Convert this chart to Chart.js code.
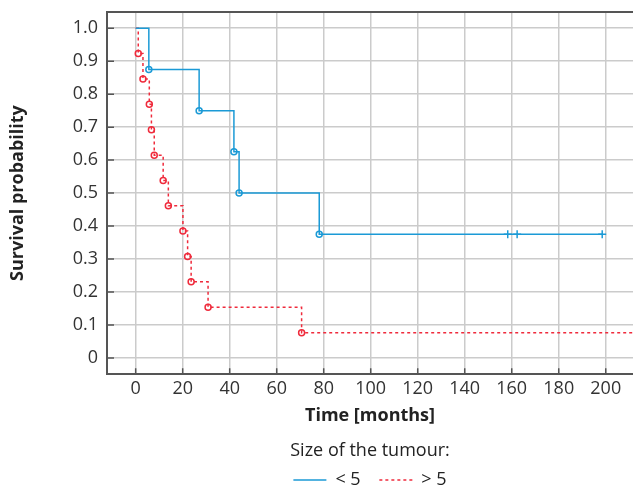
<!DOCTYPE html>
<html>
<head>
<meta charset="utf-8">
<script src="https://cdn.jsdelivr.net/npm/chart.js@4"></script>
<style>
  html, body { margin: 0; padding: 0; background: #fff; }
  #wrap { width: 633px; height: 486px; position: relative; }
</style>
</head>
<body>
<div id="wrap"><canvas id="km"></canvas></div>
<script>
// Kaplan-Meier curves
const smallTime = [0, 5.6, 27, 41.8, 44, 78.1, 158.3, 162.3, 198.5];
const smallSurv = [1, 0.875, 0.75, 0.625, 0.5, 0.375, 0.375, 0.375, 0.375];
const smallKind = ['start', 'event', 'event', 'event', 'event', 'event', 'censor', 'censor', 'censor'];

const largeTime = [0, 1.1, 3.1, 5.8, 6.7, 7.9, 11.7, 13.9, 20.1, 22.1, 23.6, 30.8, 70.6, 212];
const largeSurv = [1, 0.923, 0.846, 0.769, 0.692, 0.615, 0.538, 0.462, 0.385, 0.308, 0.231, 0.154, 0.077, 0.077];
const largeKind = ['start', 'event', 'event', 'event', 'event', 'event', 'event', 'event', 'event', 'event', 'event', 'event', 'event', 'end'];

const groupLabels = ['< 5', '> 5'];
const xTicks = [0, 20, 40, 60, 80, 100, 120, 140, 160, 180, 200];
const yTicks = [0, 0.1, 0.2, 0.3, 0.4, 0.5, 0.6, 0.7, 0.8, 0.9, 1.0];

const BLUE = '#1b9ad6';
const RED = '#ef2b3c';
const AXIS = '#555555';
const FONT = "'Open Sans', 'Noto Sans', sans-serif";

function pts(t, s) { return t.map((x, i) => ({ x: x, y: s[i] })); }

function styleFor(kind) {
  return {
    radius: kind.map(k => k === 'event' ? 3 : (k === 'censor' ? 4 : 0)),
    style: kind.map(k => k === 'censor' ? 'cross' : 'circle')
  };
}

const sSmall = styleFor(smallKind);
const sLarge = styleFor(largeKind);

// short tick marks drawn inside the plot + top frame line
const frame = {
  id: 'frame',
  beforeDatasetsDraw(chart) {
    const { ctx, chartArea: a, scales: { x, y } } = chart;
    ctx.save();
    ctx.strokeStyle = AXIS;
    ctx.lineWidth = 1.5;
    ctx.beginPath();
    xTicks.forEach(v => {
      const px = x.getPixelForValue(v);
      ctx.moveTo(px, a.bottom);
      ctx.lineTo(px, a.bottom - 6);
    });
    yTicks.forEach(v => {
      const py = y.getPixelForValue(v);
      ctx.moveTo(a.left, py);
      ctx.lineTo(a.left + 7, py);
    });
    ctx.stroke();
    ctx.lineWidth = 2;
    ctx.beginPath();
    ctx.moveTo(a.left, a.top);
    ctx.lineTo(a.right, a.top);
    ctx.stroke();
    ctx.restore();
  }
};

const gap = '\u00a0\u00a0\u00a0\u00a0';

new Chart(document.getElementById('km'), {
  type: 'line',
  data: {
    datasets: [{
      label: groupLabels[0],
      data: pts(smallTime, smallSurv),
      stepped: 'before',
      borderColor: BLUE,
      borderWidth: 1.5,
      pointRadius: sSmall.radius,
      pointStyle: sSmall.style,
      pointBorderColor: BLUE,
      pointBackgroundColor: 'rgba(255,255,255,0)',
      pointBorderWidth: 1.5,
      fill: false
    }, {
      label: groupLabels[1],
      data: pts(largeTime, largeSurv),
      stepped: 'before',
      borderColor: RED,
      borderWidth: 1.5,
      borderDash: [3, 3],
      pointRadius: sLarge.radius,
      pointStyle: sLarge.style,
      pointBorderColor: RED,
      pointBackgroundColor: 'rgba(255,255,255,0)',
      pointBorderWidth: 1.5,
      fill: false
    }]
  },
  options: {
    responsive: true,
    maintainAspectRatio: false,
    animation: false,
    events: [],
    layout: { autoPadding: false, padding: { top: 12, right: 0, left: 0, bottom: -13 } },
    scales: {
      x: {
        type: 'linear',
        min: -12.2,
        max: 211.6,
        afterBuildTicks: s => { s.ticks = xTicks.map(v => ({ value: v })); },
        ticks: { color: '#333', font: { family: FONT, size: 18 }, padding: 4, maxRotation: 0 },
        grid: { color: '#cbcbcb', lineWidth: 1.5, drawTicks: false },
        border: { color: AXIS, width: 2 },
        title: {
          display: true, text: 'Time [months]', color: '#222',
          font: { family: FONT, size: 18, weight: 'bold' }, padding: { top: 1, bottom: 2 }
        }
      },
      y: {
        type: 'linear',
        min: -0.049,
        max: 1.049,
        afterBuildTicks: s => { s.ticks = yTicks.map(v => ({ value: v })); },
        afterFit: s => { s.width = 107; s.paddingTop = 0; s.paddingBottom = 0; },
        ticks: {
          color: '#333', font: { family: FONT, size: 18 }, padding: 9,
          callback: v => v === 0 ? '0' : v.toFixed(1)
        },
        grid: { color: '#cbcbcb', lineWidth: 1.5, drawTicks: false },
        border: { color: AXIS, width: 2 },
        title: {
          display: true, text: 'Survival probability', color: '#222',
          font: { family: FONT, size: 18, weight: 'bold' }, padding: { top: 7, bottom: 0 }
        }
      }
    },
    plugins: {
      tooltip: { enabled: false },
      legend: {
        position: 'bottom',
        fullSize: false,
        title: {
          display: true, text: 'Size of the tumour:', color: '#222',
          font: { family: FONT, size: 18 }, padding: { top: 13, bottom: 8 }
        },
        labels: {
          usePointStyle: true,
          pointStyleWidth: 33,
          boxHeight: 18,
          padding: 0,
          color: '#222',
          font: { family: FONT, size: 18 },
          generateLabels: chart => chart.data.datasets.map((d, i) => ({
            text: i === 0 ? d.label + gap : d.label,
            datasetIndex: i,
            fillStyle: d.borderColor,
            strokeStyle: d.borderColor,
            lineWidth: 1.5,
            lineDash: d.borderDash || [],
            pointStyle: 'line',
            hidden: false,
            fontColor: '#222'
          }))
        }
      }
    }
  },
  plugins: [frame]
});
</script>
</body>
</html>
